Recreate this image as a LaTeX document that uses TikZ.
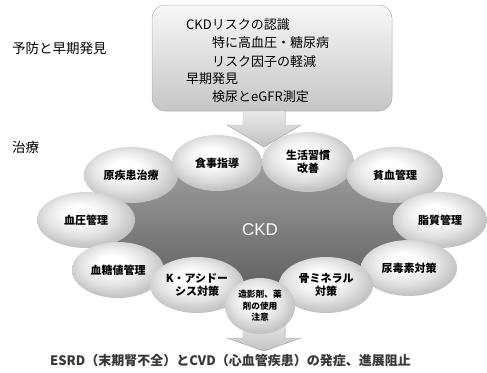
\documentclass[tikz,border=0pt]{standalone}
\usepackage{fontspec}
\setmainfont{Liberation Sans}
\newfontfamily\jp{Noto Sans CJK JP}
\usetikzlibrary{shapes.geometric}
\pgfdeclareradialshading{bubble}{\pgfpoint{-4bp}{7bp}}{color(0bp)=(white); color(7bp)=(white); color(18bp)=(gray!22); color(26bp)=(gray!45); color(33bp)=(gray!55); color(50bp)=(gray!55)}
\definecolor{blobtop}{RGB}{160,160,160}
\definecolor{blobbot}{RGB}{90,90,90}
\definecolor{btxt}{RGB}{55,55,55}
\tikzset{
  bub/.style={ellipse, shading=bubble, inner sep=0pt, align=center, text=black,
    font=\jp\bfseries\fontsize{11}{13}\selectfont},
  boxtxt/.style={anchor=west, inner sep=0pt, font=\jp\fontsize{13}{15}\selectfont},
  sidelbl/.style={anchor=west, inner sep=0pt, font=\jp\fontsize{13.5}{15}\selectfont},
  blockarrow/.style={top color=gray!18, bottom color=gray!48, draw=gray!55, line width=0.4pt}
}
\begin{document}
\begin{tikzpicture}[x=1pt,y=-1pt]
\useasboundingbox (0,0) rectangle (487,372);
% top box
\node (box) [draw=gray!60, line width=0.5pt, rounded corners=13pt, top color=gray!6, bottom color=gray!45,
  minimum width=240pt, minimum height=106pt, inner sep=0pt] at (272,58) {};
\node (t1) [boxtxt] at (186,25) {CKDリスクの認識};
\node (t2) [boxtxt] at (212,43) {特に高血圧・糖尿病};
\node (t3) [boxtxt] at (212,62) {リスク因子の軽減};
\node (t4) [boxtxt] at (186,79) {早期発見};
\node (t5) [boxtxt] at (212,97) {検尿とeGFR測定};
\node (l1) [sidelbl] at (12,48) {予防と早期発見};
\node (l2) [sidelbl] at (12,147) {治療};
% CKD blob
\node (ckd) [ellipse, minimum width=332pt, minimum height=144pt, inner sep=0pt,
  top color=blobtop, bottom color=blobbot] at (261,231) {};
\node (ckdl) [text=white, font=\fontsize{17}{19}\selectfont, inner sep=0pt] at (260,230) {CKD};
% bottom arrow (behind bubbles)
\coordinate (ba1) at (243,320);
\filldraw[blockarrow] (ba1) -- (285,320) -- (285,338) -- (301,338) -- (264,351) -- (227,338) -- (243,338) -- cycle;
% bubbles
\node (b1) [bub, minimum width=94pt, minimum height=56pt] at (131,175) {原疾患治療};
\node (b6) [bub, minimum width=98pt, minimum height=56pt] at (86,220) {血圧管理};
\node (b7) [bub, minimum width=92pt, minimum height=56pt] at (118,270) {血糖値管理};
\node (b2) [bub, minimum width=90pt, minimum height=56pt] at (217,163) {食事指導};
\node (b3) [bub, minimum width=92pt, minimum height=60pt] at (308,162) {生活習慣\\改善};
\node (b4) [bub, minimum width=96pt, minimum height=56pt] at (395,175) {貧血管理};
\node (b5) [bub, minimum width=94pt, minimum height=56pt] at (440,220) {脂質管理};
\node (b11) [bub, minimum width=96pt, minimum height=56pt] at (409,268) {尿毒素対策};
\node (b8) [bub, minimum width=94pt, minimum height=56pt] at (197,285) {K・アシドー\\シス対策};
\node (b10) [bub, minimum width=94pt, minimum height=56pt] at (326,285) {骨ミネラル\\対策};
\node (b9) [bub, minimum width=70pt, minimum height=56pt, font=\jp\bfseries\fontsize{8.7}{11.5}\selectfont] at (260,306) {造影剤、薬\\剤の使用\\注意};
% top arrow (over bubbles)
\coordinate (ta1) at (243,111);
\filldraw[blockarrow] (ta1) -- (285,111) -- (285,125) -- (301,125) -- (264,147) -- (227,125) -- (243,125) -- cycle;
% bottom text
\node (res) [anchor=west, inner sep=0pt, text=btxt, font=\jp\bfseries\fontsize{13}{15}\selectfont] at (50,361)
  {ESRD（末期腎不全）とCVD（心血管疾患）の発症、進展阻止};
\end{tikzpicture}
\end{document}
